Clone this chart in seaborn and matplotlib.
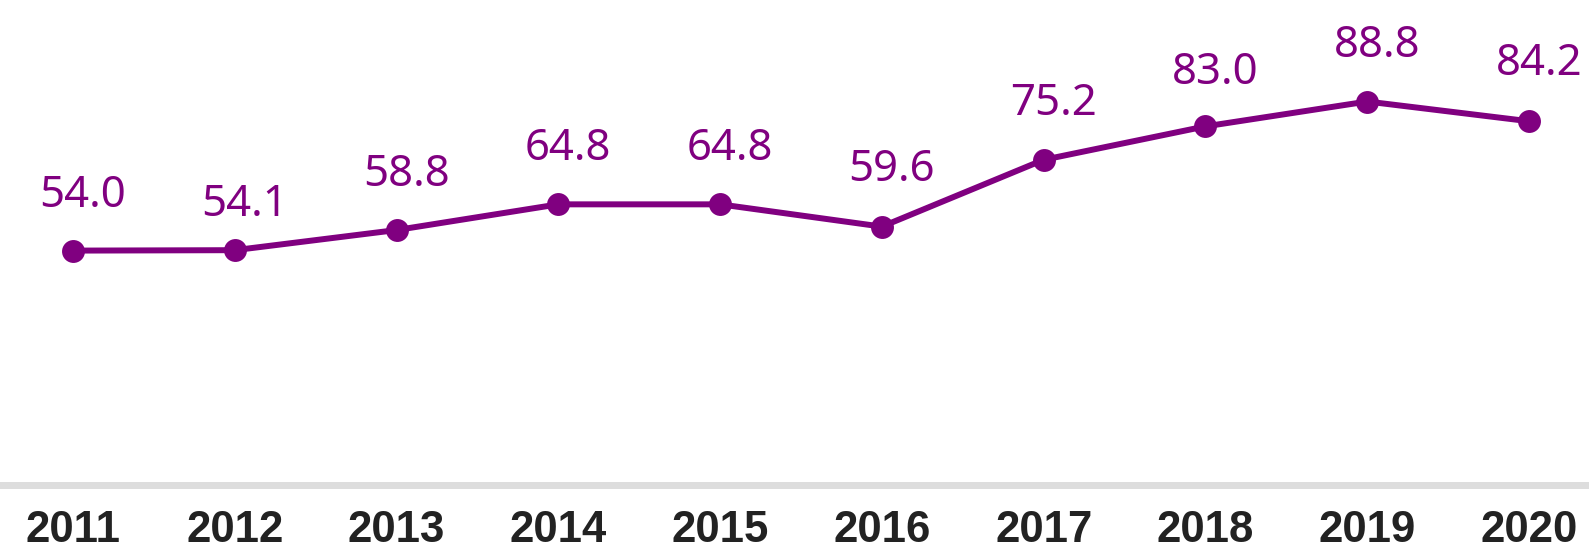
import matplotlib
matplotlib.use("Agg")
import matplotlib.pyplot as plt
import seaborn as sns
import pandas as pd

# data
years = [2011, 2012, 2013, 2014, 2015, 2016, 2017, 2018, 2019, 2020]
values = [54.0, 54.1, 58.8, 64.8, 64.8, 59.6, 75.2, 83.0, 88.8, 84.2]
value_labels = ["54.0", "54.1", "58.8", "64.8", "64.8", "59.6", "75.2", "83.0", "88.8", "84.2"]

df = pd.DataFrame({"year": years, "value": values})

purple = "#800080"
sns.set_style("white")
plt.rcParams["font.family"] = ["Noto Sans", "DejaVu Sans"]

fig = plt.figure(figsize=(15.89, 5.60), dpi=100)
# axes: bottom edge at the grey baseline, full width
ax = fig.add_axes([0, 1 - 484.5 / 560, 1, 484.5 / 560])

sns.lineplot(data=df, x="year", y="value", color=purple, lw=4.3,
             marker="o", markersize=16.5, markeredgewidth=0, ax=ax)

# label offsets in pixels above each point (2012 sits a bit lower)
dy = [44, 34, 44, 44, 44, 46, 45, 42, 45, 46]
for x, y, t, d in zip(years, values, value_labels, dy):
    ax.annotate(t, (x, y), xytext=(10 * 0.72, d * 0.72), textcoords="offset points",
                ha="center", va="baseline", color=purple, fontsize=31.5)

ax.set_xlim(2011 - 0.451, 2020 + 0.371)
ax.set_ylim(-0.6, 112.5)
ax.set_xticks(years)
ax.set_xticklabels([str(y) for y in years], fontsize=31.5, fontweight="bold",
                   color="#222222", family=["Liberation Sans", "DejaVu Sans"])
ax.tick_params(axis="x", length=0, pad=18.5)
ax.set_yticks([])
ax.set_xlabel("")
ax.set_ylabel("")
for s in ["top", "left", "right"]:
    ax.spines[s].set_visible(False)
ax.spines["bottom"].set_color("#dddddd")
ax.spines["bottom"].set_linewidth(5.0)

fig.savefig("out.png", dpi=100)
